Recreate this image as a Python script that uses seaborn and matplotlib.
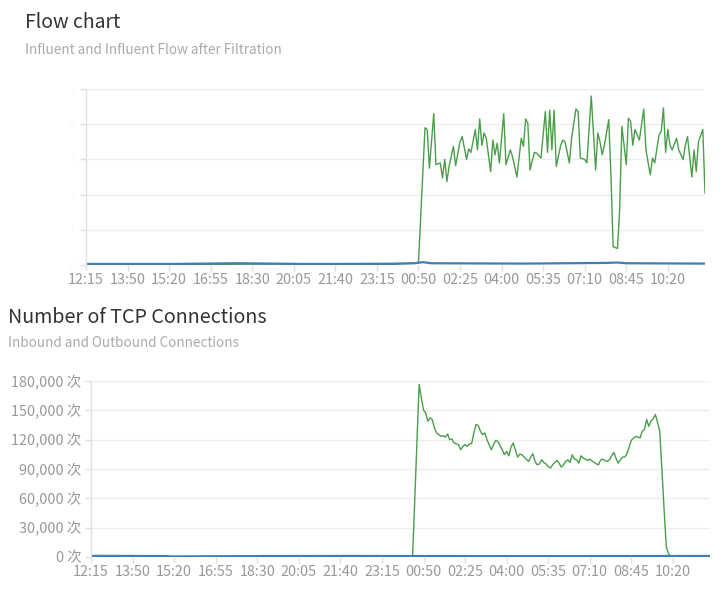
import pandas as pd
import seaborn as sns
import matplotlib.pyplot as plt
from matplotlib.ticker import FuncFormatter

# x axis labels (one label every 19 samples of 5 minutes)
tick_labels = ['12:15', '13:50', '15:20', '16:55', '18:30', '20:05', '21:40', '23:15',
               '00:50', '02:25', '04:00', '05:35', '07:10', '08:45', '10:20']

# Flow chart - influent after filtration (green)
flow_slot = [0, 152, 155, 156, 157, 159, 160, 162, 163, 164, 165, 166, 168, 169, 171, 172,
             174, 175, 176, 178, 179, 180, 181, 182, 183, 185, 186, 187, 188, 189, 191, 192,
             194, 195, 197, 199, 200, 201, 202, 203, 205, 206, 208, 210, 211, 212, 213, 214,
             215, 217, 218, 219, 221, 222, 224, 225, 226, 228, 229, 230, 231, 233, 234, 235,
             236, 237, 239, 240, 241, 243, 244, 245, 247, 248, 249, 250, 251, 253, 255, 256,
             258, 259, 260, 262, 263, 264, 265, 266, 267, 268, 270, 271, 273, 274, 275, 277,
             278, 279, 280, 282, 283]
flow_filtered = [0.0, 0.05, 3.9, 3.85, 2.75, 4.3, 2.85, 2.9, 2.47, 3.0, 2.37, 2.8, 3.37, 2.82,
                 3.5, 3.65, 3.0, 3.3, 3.2, 3.85, 3.27, 4.15, 3.4, 3.75, 3.6, 2.65, 3.55, 3.13,
                 3.46, 2.9, 4.3, 2.85, 3.27, 3.08, 2.5, 3.6, 3.37, 4.15, 4.03, 2.7, 3.2, 3.18,
                 3.04, 4.36, 3.2, 4.4, 3.27, 4.4, 2.8, 3.4, 3.55, 3.5, 2.9, 3.6, 4.43, 4.36,
                 3.04, 3.0, 2.9, 3.85, 4.8, 2.7, 3.75, 3.5, 3.13, 3.4, 4.13, 2.56, 0.52, 0.47,
                 1.6, 3.94, 2.85, 4.17, 4.08, 3.4, 3.85, 3.55, 4.43, 3.27, 2.56, 3.04, 2.9, 3.7,
                 3.8, 4.46, 3.2, 3.85, 3.4, 3.27, 3.6, 3.27, 3.0, 3.4, 3.65, 2.5, 3.27, 2.65,
                 3.5, 3.85, 2.04]

# Flow chart - influent (blue)
influent_slot = [0, 40, 69, 100, 140, 150, 154, 158, 200, 238, 243, 247, 283]
influent = [0.03, 0.03, 0.05, 0.03, 0.03, 0.05, 0.08, 0.05, 0.04, 0.06, 0.07, 0.05, 0.04]

# TCP connections - inbound (green)
tcp_in_slot = [0, 147, 150, 151, 152, 153, 154, 155, 156, 157, 158, 159, 160, 161, 162, 163,
               164, 165, 166, 168, 169, 170, 171, 172, 173, 174, 175, 176, 177, 178, 179, 180,
               181, 182, 183, 184, 185, 186, 187, 188, 189, 190, 191, 192, 193, 194, 195, 196,
               197, 198, 199, 200, 201, 202, 203, 204, 205, 206, 207, 208, 209, 210, 211, 212,
               213, 214, 215, 216, 217, 218, 219, 220, 221, 222, 223, 224, 225, 226, 227, 228,
               230, 231, 232, 233, 234, 235, 236, 237, 238, 239, 240, 241, 242, 243, 244, 245,
               246, 247, 248, 249, 250, 251, 252, 253, 254, 255, 256, 257, 258, 259, 260, 261,
               262, 263, 264, 265, 283]
tcp_in = [0, 0, 176600, 162900, 150200, 147400, 138900, 142300, 140600, 132000, 126900,
          125100, 123400, 124100, 122700, 125800, 120000, 120700, 116600, 114900, 109700,
          113100, 114900, 113100, 115900, 115900, 126900, 135400, 134700, 128600, 125100,
          126900, 120000, 114900, 109700, 114900, 119300, 118300, 113800, 109700, 104600,
          108000, 103500, 112500, 116600, 109700, 102200, 105300, 104600, 102200, 100100,
          97700, 102200, 105600, 97700, 94300, 95300, 99400, 96700, 95300, 92600, 90900,
          94300, 96700, 98700, 96000, 91900, 94300, 97700, 99400, 96700, 104600, 100100,
          99400, 96000, 103500, 101100, 100100, 98700, 100100, 96700, 95300, 94300, 99400,
          100100, 98700, 97700, 99400, 103500, 107000, 101100, 96000, 99400, 102200, 102200,
          105600, 112500, 119300, 121700, 123400, 122700, 121700, 128600, 130300, 140600,
          133700, 138900, 141300, 145700, 137800, 128600, 89100, 48000, 10300, 3400, 1000, 500]

# TCP connections - outbound (blue)
tcp_out_slot = [0, 35, 36, 80, 120, 150, 200, 250, 283]
tcp_out = [1200, 1000, 600, 1000, 1100, 1000, 900, 1000, 1100]

GREEN = '#4a9e4a'
BLUE = '#3f7fb5'
GRID = '#eeeeee'
AXIS = '#e0e0e0'
LABEL = '#999999'

sns.set_theme(style='white')
plt.rcParams['font.family'] = ['Noto Sans CJK SC', 'DejaVu Sans']

fig = plt.figure(figsize=(7.23, 5.91), dpi=100)
ax1 = fig.add_axes([0.1189, 0.5516, 0.8562, 0.2978])
ax2 = fig.add_axes([0.1259, 0.0575, 0.8562, 0.2978])

df_flow = pd.DataFrame({'slot': flow_slot, 'value': flow_filtered})
df_influent = pd.DataFrame({'slot': influent_slot, 'value': influent})
df_tcp_in = pd.DataFrame({'slot': tcp_in_slot, 'value': tcp_in})
df_tcp_out = pd.DataFrame({'slot': tcp_out_slot, 'value': tcp_out})

sns.lineplot(data=df_flow, x='slot', y='value', ax=ax1, color=GREEN, linewidth=1.0)
sns.lineplot(data=df_influent, x='slot', y='value', ax=ax1, color=BLUE, linewidth=1.6)
sns.lineplot(data=df_tcp_in, x='slot', y='value', ax=ax2, color=GREEN, linewidth=1.0)
sns.lineplot(data=df_tcp_out, x='slot', y='value', ax=ax2, color=BLUE, linewidth=1.6)

tick_pos = [i * 19 for i in range(len(tick_labels))]

for ax in (ax1, ax2):
    ax.set_xlim(0, 283)
    ax.set_xlabel('')
    ax.set_ylabel('')
    ax.set_xticks(tick_pos)
    ax.set_xticklabels(tick_labels)
    ax.yaxis.grid(True, color=GRID, linewidth=1)
    ax.set_axisbelow(True)
    for side in ('top', 'right', 'bottom'):
        ax.spines[side].set_visible(False)
    ax.spines['left'].set_color(AXIS)
    ax.spines['left'].set_linewidth(1)
    ax.tick_params(axis='x', colors=AXIS, labelcolor=LABEL, labelsize=10.4,
                   length=4, width=1, direction='out', bottom=True, pad=2)
    ax.tick_params(axis='y', colors=AXIS, labelcolor=LABEL, labelsize=10.4,
                   length=4, width=1, direction='out', left=True, pad=3)

ax1.set_ylim(0, 5)
ax1.set_yticks([0, 1, 2, 3, 4, 5])
ax1.tick_params(axis='y', labelcolor='#fbfbfb')

ax2.set_ylim(0, 180000)
ax2.set_yticks(range(0, 180001, 30000))
ax2.yaxis.set_major_formatter(FuncFormatter(lambda v, p: f'{int(v):,} 次'))

fig.text(25 / 723, 1 - 22 / 591, 'Flow chart', fontsize=14, color='#333333', va='center')
fig.text(25 / 723, 1 - 50 / 591, 'Influent and Influent Flow after Filtration',
         fontsize=9.7, color='#aaaaaa', va='center')
fig.text(8 / 723, 1 - 318 / 591, 'Number of TCP Connections', fontsize=14.2,
         color='#333333', va='center')
fig.text(8 / 723, 1 - 343 / 591, 'Inbound and Outbound Connections',
         fontsize=9.7, color='#aaaaaa', va='center')

plt.savefig('out.png', dpi=100)
plt.close()
